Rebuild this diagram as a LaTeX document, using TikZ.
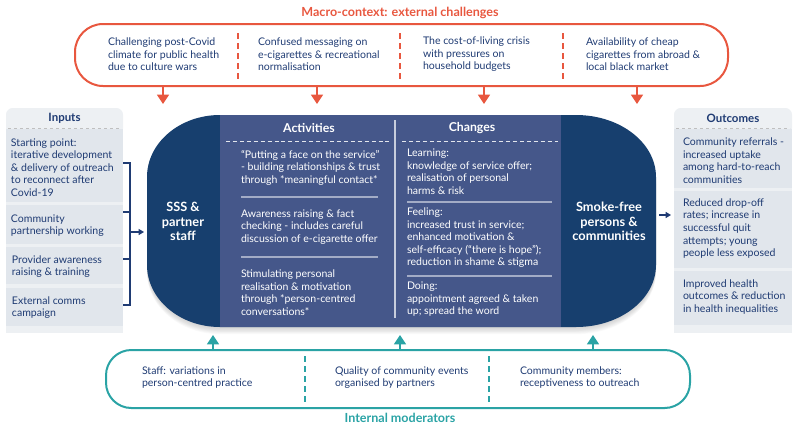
\documentclass[tikz,border=0pt]{standalone}
\usepackage{fontspec}
\setmainfont{Lato}
\usetikzlibrary{arrows.meta}
\definecolor{orng}{HTML}{E8573F}
\definecolor{txt}{HTML}{1F3B73}
\definecolor{navy}{HTML}{173F6E}
\definecolor{slate}{HTML}{45578A}
\definecolor{pnl}{HTML}{E1E6EC}
\definecolor{pnlhd}{HTML}{EDF0F3}
\definecolor{tealc}{HTML}{2AA3A5}
\definecolor{sepl}{HTML}{A3ACC6}
\newcommand\mainshp{(220,115) -- (576,115) .. controls (620.2,115) and (656,142.8) .. (656,177) -- (656,265) .. controls (656,299.2) and (620.2,327) .. (576,327) -- (220,327) .. controls (179.7,327) and (147,299.2) .. (147,265) -- (147,177) .. controls (147,142.8) and (179.7,115) .. cycle}
\begin{document}
\begin{tikzpicture}[x=0.75pt,y=-0.75pt,
  every node/.style={inner sep=0pt, outer sep=0pt},
  body/.style={font=\fontsize{7.9}{9.4}\selectfont, text=txt, align=left, anchor=west},
  wbody/.style={font=\fontsize{7.9}{9.4}\selectfont, text=white, align=left, anchor=west},
  head/.style={font=\bfseries\fontsize{8.6}{10}\selectfont, text=txt},
  whead/.style={font=\bfseries\fontsize{9.2}{10}\selectfont, text=white},
  big/.style={font=\bfseries\fontsize{9.6}{11}\selectfont, text=white, align=center},
  otitle/.style={font=\bfseries\fontsize{9.4}{11}\selectfont, text=orng},
  ttitle/.style={font=\bfseries\fontsize{9.4}{11}\selectfont, text=tealc},
  odiv/.style={draw=orng, line width=1.4pt, dash pattern=on 4.5pt off 3pt},
  tdiv/.style={draw=tealc, line width=1.4pt, dash pattern=on 4.5pt off 3pt},
  oarr/.style={draw=orng, line width=1pt, -{Triangle[width=9pt,length=7pt]}, orng},
  tarr/.style={draw=tealc, line width=1pt, -{Triangle[width=9pt,length=7pt]}, tealc},
  narr/.style={draw=txt, line width=0.8pt, -{Triangle[width=4.5pt,length=4pt]}, txt},
  boxfill/.style={fill=pnl},
  sepline/.style={draw=sepl, line width=0.8pt},
  hdash/.style={draw=white!85!slate, line width=0.7pt, dash pattern=on 3pt off 2.2pt},
  gdash/.style={draw=black!25, line width=0.6pt, dash pattern=on 2.5pt off 2pt}
]
\useasboundingbox (0,0) rectangle (797,426);

% ---------- Macro-context ----------
\node[otitle] (mtitle) at (400,13) {Macro-context: external challenges};
\node[draw=orng, line width=1.5pt, rounded corners=21pt, minimum width=489.75pt, minimum height=46.5pt] (macro) at (401.5,55) {};
\draw[odiv] (238,33) -- (238,79);
\draw[odiv] (400,33) -- (400,79);
\draw[odiv] (563,33) -- (563,79);
\node[body] (c1) at (108,54.5) {Challenging post-Covid\\climate for public health\\due to culture wars};
\node[body] (c2) at (258,54.5) {Confused messaging on\\e-cigarettes \& recreational\\normalisation};
\node[body] (c3) at (423,54.5) {The cost-of-living crisis\\with pressures on\\household budgets};
\node[body] (c4) at (586,54.5) {Availability of cheap\\cigarettes from abroad \&\\local black market};

% ---------- shadow + main shape ----------
\foreach \i in {1,...,9}{
  \begin{scope}[yshift=-\i*0.6pt]
  \fill[black, opacity=0.02] \mainshp;
  \end{scope}
}
\fill[navy] \mainshp;
\node[fill=slate, minimum width=255.75pt, minimum height=159pt] (mid) at (390.5,221) {};
\draw[sepline, draw=white!70!slate] (395,120) -- (395,318);

% Activities
\node[whead] (acth) at (309,128) {Activities};
\draw[hdash] (226,141) -- (389,141);
\node[wbody] (a1) at (241,167.5) {``Putting a face on the service''\\- building relationships \& trust\\through *meaningful contact*};
\draw[sepline] (241,197) -- (378,197);
\node[wbody] (a2) at (241,227) {Awareness raising \& fact\\checking - includes careful\\discussion of e-cigarette offer};
\draw[sepline] (241,257) -- (378,257);
\node[wbody] (a3) at (241,292.5) {Stimulating personal\\realisation \& motivation\\through *person-centred\\conversations*};

% Changes
\node[whead] (chh) at (472,128) {Changes};
\draw[hdash] (402,141) -- (558,141);
\node[wbody] (g1) at (407,171.5) {Learning:\\knowledge of service offer;\\realisation of personal\\harms \& risk};
\draw[sepline] (407,202) -- (552,202);
\node[wbody] (g2) at (407,238) {Feeling:\\increased trust in service;\\enhanced motivation \&\\self-efficacy (``there is hope'');\\reduction in shame \& stigma};
\draw[sepline] (407,276) -- (552,276);
\node[wbody] (g3) at (407,299.5) {Doing:\\appointment agreed \& taken\\up; spread the word};

\node[big] (sss) at (183,221.5) {SSS \&\\partner\\staff};
\node[big] (sf) at (609,221.5) {Smoke-free\\persons \&\\communities};

% macro arrows
\coordinate (m1) at (163,86.5); \coordinate (m1e) at (163,104);
\coordinate (m2) at (317,86.5); \coordinate (m2e) at (317,104);
\coordinate (m3) at (484,86.5); \coordinate (m3e) at (484,104);
\coordinate (m4) at (637,86.5); \coordinate (m4e) at (637,104);
\draw[oarr] (m1) -- (m1e);
\draw[oarr] (m2) -- (m2e);
\draw[oarr] (m3) -- (m3e);
\draw[oarr] (m4) -- (m4e);

% ---------- Inputs ----------
\fill[pnlhd, rounded corners=5pt] (6,108) rectangle (123,135);
\fill[pnlhd] (6,125) rectangle (123,333);
\fill[boxfill] (6,129) rectangle (123,202);
\fill[boxfill] (6,205) rectangle (123,244);
\fill[boxfill] (6,247) rectangle (123,284);
\fill[boxfill] (6,288) rectangle (123,326);
\draw[gdash] (8,128) -- (121,128);
\node[head] (inh) at (64.5,118) {Inputs};
\node[body] (i1) at (11,167.5) {Starting point:\\iterative development\\\& delivery of outreach\\to reconnect after\\Covid-19};
\node[body] (i2) at (11,225.5) {Community\\partnership working};
\node[body] (i3) at (12,266.5) {Provider awareness\\raising \& training};
\node[body] (i4) at (12,307.5) {External comms\\campaign};
\draw[txt, line width=0.8pt] (123,163) -- (130,163) -- (130,305) -- (123,305);
\draw[txt, line width=0.8pt] (123,212) -- (130,212);
\draw[txt, line width=0.8pt] (123,259) -- (130,259);
\coordinate (brk) at (130,232); \coordinate (brke) at (144,232);
\draw[narr] (brk) -- (brke);

% ---------- Outcomes ----------
\fill[pnlhd, rounded corners=5pt] (674,108) rectangle (792,135);
\fill[pnlhd] (674,125) rectangle (792,333);
\fill[boxfill] (674,129) rectangle (792,188);
\fill[boxfill] (674,191) rectangle (792,268);
\fill[boxfill] (674,271) rectangle (792,325);
\draw[gdash] (676,128) -- (790,128);
\node[head] (outh) at (733,118) {Outcomes};
\node[body] (o1) at (683,160.5) {Community referrals -\\increased uptake\\among hard-to-reach\\communities};
\node[body] (o2) at (683,228.5) {Reduced drop-off\\rates; increase in\\successful quit\\attempts; young\\people less exposed};
\node[body] (o3) at (683,297) {Improved health\\outcomes \& reduction\\in health inequalities};
\coordinate (sfo) at (659,215); \coordinate (sfoe) at (671,215);
\draw[narr] (sfo) -- (sfoe);

% ---------- Internal moderators ----------
\node[draw=tealc, line width=1.5pt, rounded corners=19pt, minimum width=438pt, minimum height=43.5pt] (mod) at (398,379) {};
\draw[tdiv] (305,356) -- (305,402);
\draw[tdiv] (489,356) -- (489,402);
\node[body] (d1) at (142,377.5) {Staff: variations in\\person-centred practice};
\node[body] (d2) at (335,377.5) {Quality of community events\\organised by partners};
\node[body] (d3) at (520,377.5) {Community members:\\receptiveness to outreach};
\node[ttitle] (mtit) at (400,418) {Internal moderators};
\coordinate (t1) at (213,350); \coordinate (t1e) at (213,335);
\coordinate (t2) at (400,350); \coordinate (t2e) at (400,335);
\coordinate (t3) at (593,350); \coordinate (t3e) at (593,335);
\draw[tarr] (t1) -- (t1e);
\draw[tarr] (t2) -- (t2e);
\draw[tarr] (t3) -- (t3e);
\end{tikzpicture}
\end{document}
